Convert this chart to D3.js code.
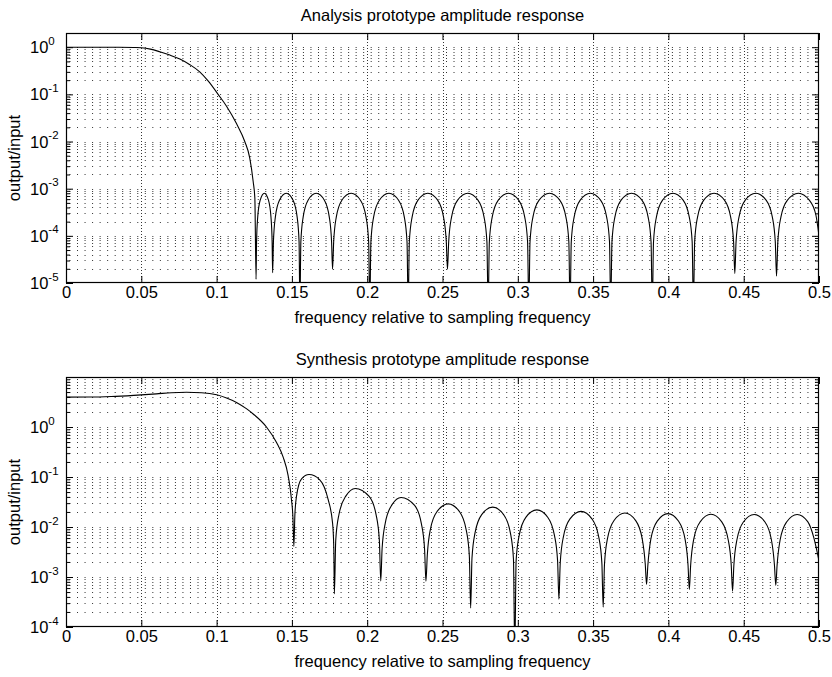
<!DOCTYPE html>
<html><head><meta charset="utf-8">
<script src="https://cdn.jsdelivr.net/npm/d3@7"></script>
<style>body{margin:0;background:#fff} svg text{font-family:"Liberation Sans",Arial,Helvetica,sans-serif;}</style>
</head><body><svg id="chart" width="832" height="677"></svg>
<script>
// ---------- data ----------
const freqTicks = [0, 0.05, 0.1, 0.15, 0.2, 0.25, 0.3, 0.35, 0.4, 0.45, 0.5];
const freqTickLabels = ["0", "0.05", "0.1", "0.15", "0.2", "0.25", "0.3", "0.35", "0.4", "0.45", "0.5"];
const analysisDecadeLabels = [-5, -4, -3, -2, -1, 0];
const synthesisDecadeLabels = [-4, -3, -2, -1, 0];
const titles = ["Analysis prototype amplitude response", "Synthesis prototype amplitude response"];
const xLabel = "frequency relative to sampling frequency";
const yLabel = "output/input";

const analysisFreq = [
0,0.02,0.035,0.045,0.05,0.056,0.0623,0.069,0.0756,0.082,0.0888,0.0945,0.101,0.1066,0.1132,0.1187,0.122,0.1243,0.1254,0.1262,
0.12653,0.1273,0.12895,0.1317,0.13445,0.1361,0.13687,0.1372,
0.13774,0.13901,0.14173,0.14625,0.15078,0.15349,0.15476,0.1553,
0.15595,0.15747,0.16073,0.16615,0.17158,0.17483,0.17635,0.177,
0.17774,0.17947,0.18318,0.18935,0.19553,0.19923,0.20096,0.2017,
0.20247,0.20425,0.20808,0.21445,0.22083,0.22465,0.22644,0.2272,
0.22798,0.22981,0.23373,0.24025,0.24678,0.25069,0.25252,0.2533,
0.25411,0.256,0.26005,0.2668,0.27355,0.2776,0.27949,0.2803,
0.28111,0.283,0.28705,0.2938,0.30055,0.3046,0.30649,0.3073,
0.30812,0.31004,0.31415,0.321,0.32785,0.33196,0.33388,0.3347,
0.33551,0.3374,0.34145,0.3482,0.35495,0.359,0.36089,0.3617,
0.36253,0.36446,0.3686,0.3755,0.3824,0.38654,0.38847,0.3893,
0.39012,0.39203,0.39613,0.40295,0.40978,0.41387,0.41578,0.4166,
0.41743,0.41935,0.42348,0.43035,0.43723,0.44135,0.44328,0.4441,
0.44493,0.44687,0.45103,0.45795,0.46488,0.46903,0.47097,0.4718,
0.47267,0.4747,0.47905,0.4863,0.49355,0.4979,0.5];
const analysisAmp = [
1.0,1.0,0.997,0.985,0.97,0.91,0.8,0.68,0.56,0.43,0.3,0.19,0.1,0.056,0.024,0.01,0.0045,0.0014,0.00063,1.2e-5,
7.5e-5,2.5e-4,5.7e-4,8.0e-4,5.7e-4,2.5e-4,7.5e-5,1.66e-5,
7.5e-5,2.5e-4,5.7e-4,8.0e-4,5.7e-4,2.5e-4,7.5e-5,3e-6,
7.5e-5,2.5e-4,5.7e-4,8.0e-4,5.7e-4,2.5e-4,7.5e-5,1.95e-5,
7.5e-5,2.5e-4,5.7e-4,8.0e-4,5.7e-4,2.5e-4,7.5e-5,3e-6,
7.5e-5,2.5e-4,5.7e-4,8.0e-4,5.7e-4,2.5e-4,7.5e-5,3e-6,
7.5e-5,2.5e-4,5.7e-4,8.0e-4,5.7e-4,2.5e-4,7.5e-5,1.95e-5,
7.5e-5,2.5e-4,5.7e-4,8.0e-4,5.7e-4,2.5e-4,7.5e-5,3e-6,
7.5e-5,2.5e-4,5.7e-4,8.0e-4,5.7e-4,2.5e-4,7.5e-5,3e-6,
7.5e-5,2.5e-4,5.7e-4,8.0e-4,5.7e-4,2.5e-4,7.5e-5,3e-6,
7.5e-5,2.5e-4,5.7e-4,8.0e-4,5.7e-4,2.5e-4,7.5e-5,3e-6,
7.5e-5,2.5e-4,5.7e-4,8.0e-4,5.7e-4,2.5e-4,7.5e-5,3e-6,
7.5e-5,2.5e-4,5.7e-4,8.0e-4,5.7e-4,2.5e-4,7.5e-5,3e-6,
7.5e-5,2.5e-4,5.7e-4,8.0e-4,5.7e-4,2.5e-4,7.5e-5,1.6e-5,
7.5e-5,2.5e-4,5.7e-4,8.0e-4,5.7e-4,2.5e-4,7.5e-5,1.4e-5,
7.5e-5,2.5e-4,5.7e-4,8.0e-4,5.7e-4,2.8e-4,1.0e-4];

const synthesisFreq = [
0,0.015,0.03,0.045,0.06,0.07,0.08,0.09,0.1,0.1066,0.1132,0.12,0.1243,0.1331,0.1398,0.1442,0.1475,0.1497,0.1507,0.1513,
0.152,0.1531,0.1564,0.1614,0.1685,0.174,0.177,0.1778,0.1782,
0.17912,0.18128,0.1859,0.19206,0.2013,0.20592,0.20808,0.209,
0.2099,0.212,0.2165,0.2225,0.2315,0.236,0.2381,0.239,
0.23989,0.24197,0.24643,0.25385,0.26128,0.26573,0.26781,0.2687,
0.26958,0.27163,0.27603,0.28335,0.29068,0.29507,0.29712,0.298,
0.29888,0.30093,0.30533,0.31265,0.31998,0.32437,0.32642,0.3273,
0.32818,0.33024,0.33465,0.342,0.34935,0.35376,0.35582,0.3567,
0.35756,0.35958,0.3639,0.3711,0.3783,0.38262,0.38464,0.3855,
0.38635,0.38834,0.3926,0.3997,0.4068,0.41106,0.41305,0.4139,
0.41476,0.41677,0.42108,0.42825,0.43543,0.43973,0.44174,0.4426,
0.44346,0.44547,0.44978,0.45695,0.46413,0.46843,0.47044,0.4713,
0.47216,0.47417,0.47848,0.4855,0.4925,0.4965,0.5];
const synthesisAmp = [
3.95,3.97,4.08,4.3,4.6,4.85,4.95,4.85,4.4,3.8,3.1,2.3,1.82,1.0,0.49,0.25,0.107,0.036,0.015,0.0041,
0.018,0.042,0.092,0.112,0.088,0.036,0.012,0.004,0.00046,
0.0055,0.018,0.042,0.059,0.041,0.0175,0.0054,0.00083,
0.0037,0.012,0.028,0.039,0.027,0.0116,0.0036,0.00082,
0.0027,0.009,0.0205,0.029,0.0203,0.0088,0.0027,0.00024,
0.0024,0.0077,0.0177,0.025,0.0175,0.0076,0.0023,0.00003,
0.0021,0.0068,0.0156,0.022,0.0155,0.0067,0.0021,0.00036,
0.0019,0.0063,0.0145,0.0205,0.0144,0.0063,0.0019,0.00025,
0.0018,0.0059,0.0135,0.019,0.0134,0.0058,0.0018,0.00071,
0.0017,0.0057,0.0131,0.0185,0.013,0.0057,0.0017,0.00056,
0.0017,0.0056,0.0127,0.018,0.0127,0.0055,0.0017,0.00052,
0.0017,0.0055,0.0126,0.0178,0.0126,0.0055,0.0017,0.00068,
0.0017,0.0055,0.0126,0.0178,0.0128,0.0062,0.0021];

// ---------- drawing ----------
const svg = d3.select("#chart");
const FONT = 16.5;
const plotLeft = 66, plotRight = 819;

function panel(o) {
  const x = d3.scaleLinear().domain([0, 0.5]).range([plotLeft, plotRight]);
  const y = d3.scaleLog().domain(o.yDomain).range([o.bottom, o.top]);
  const g = svg.append("g");
  const lo = o.yDomain[0], hi = o.yDomain[1];

  const allVals = [], minorVals = [], majorVals = [];
  for (let d = Math.floor(Math.log10(lo)); d <= Math.ceil(Math.log10(hi)); d++) {
    for (let m = 1; m <= 9; m++) {
      const v = m * Math.pow(10, d);
      if (v >= lo * 0.9999 && v <= hi * 1.0001) {
        if (m === 1) majorVals.push(v); else minorVals.push(v);
        if (v > lo * 1.0001 && v < hi * 0.9999) allVals.push(v);
      }
    }
  }
  const crisp = v => Math.round(v) + 0.5;

  // horizontal dotted grid
  g.append("g").selectAll("line").data(allVals).join("line")
    .attr("x1", plotLeft).attr("x2", plotRight)
    .attr("y1", d => crisp(y(d))).attr("y2", d => crisp(y(d)))
    .attr("stroke", "#333").attr("stroke-width", 1)
    .attr("stroke-dasharray", "1 6.53").attr("stroke-dashoffset", 4.03);
  // vertical dotted grid
  g.append("g").selectAll("line").data(freqTicks.slice(1, -1)).join("line")
    .attr("x1", d => crisp(x(d))).attr("x2", d => crisp(x(d)))
    .attr("y1", o.top).attr("y2", o.bottom)
    .attr("stroke", "#333").attr("stroke-width", 1)
    .attr("stroke-dasharray", "1 2");

  // curve
  const clipId = "clip" + o.id;
  svg.append("defs").append("clipPath").attr("id", clipId)
    .append("rect").attr("x", plotLeft).attr("y", o.top)
    .attr("width", plotRight - plotLeft).attr("height", o.bottom - o.top);
  const pts = o.freq.map((f, i) => [f, o.amp[i]]);
  const line = d3.line().x(d => x(d[0])).y(d => y(d[1])).curve(d3.curveMonotoneX);
  g.append("path").attr("d", line(pts)).attr("clip-path", `url(#${clipId})`)
    .attr("fill", "none").attr("stroke", "#000").attr("stroke-width", 1.1)
    .attr("stroke-linejoin", "round");

  // axes (ticks inward)
  const styleAxis = sel => {
    sel.select(".domain").remove();
    sel.selectAll("line").attr("stroke", "#000");
    sel.attr("font-size", FONT).attr("font-family", null);
  };
  g.append("g").attr("transform", `translate(0,${o.bottom})`)
    .call(d3.axisBottom(x).tickValues(freqTicks).tickFormat((d, i) => freqTickLabels[i])
      .tickSizeInner(-7).tickSizeOuter(0).tickPadding(3.5)).call(styleAxis)
    .selectAll("text").attr("fill", "#000");
  g.append("g").attr("transform", `translate(0,${o.top})`)
    .call(d3.axisTop(x).tickValues(freqTicks).tickFormat(() => "")
      .tickSizeInner(-7).tickSizeOuter(0)).call(styleAxis);
  [[d3.axisLeft, plotLeft], [d3.axisRight, plotRight]].forEach(([ax, px]) => {
    g.append("g").attr("transform", `translate(${px},0)`)
      .call(ax(y).tickValues(majorVals).tickFormat(() => "").tickSizeInner(-7).tickSizeOuter(0)).call(styleAxis);
    g.append("g").attr("transform", `translate(${px},0)`)
      .call(ax(y).tickValues(minorVals).tickFormat(() => "").tickSizeInner(-4).tickSizeOuter(0)).call(styleAxis);
  });

  // y tick labels 10^n
  const lab = g.append("g").selectAll("text").data(o.decadeLabels).join("text")
    .attr("x", 30).attr("y", d => y(Math.pow(10, d)) + 6)
    .attr("font-size", FONT).attr("fill", "#000");
  lab.append("tspan").text("10");
  lab.append("tspan").attr("font-size", 11.5).attr("dy", -8.5).text(d => d === 0 ? "0" : "-" + Math.abs(d));

  // box
  g.append("rect").attr("x", plotLeft + 0.5).attr("y", o.top + 0.5)
    .attr("width", plotRight - plotLeft - 1).attr("height", o.bottom - o.top - 1)
    .attr("fill", "none").attr("stroke", "#000").attr("stroke-width", 1.2);

  // labels
  g.append("text").attr("x", (plotLeft + plotRight) / 2).attr("y", o.top - 12)
    .attr("text-anchor", "middle").attr("font-size", FONT).text(o.title);
  g.append("text").attr("x", (plotLeft + plotRight) / 2).attr("y", o.bottom + 40)
    .attr("text-anchor", "middle").attr("font-size", FONT).text(xLabel);
  g.append("text").attr("transform", `translate(19.5,${(o.top + o.bottom) / 2}) rotate(-90)`)
    .attr("text-anchor", "middle").attr("font-size", FONT).text(yLabel);
}

panel({id: 1, top: 33, bottom: 283, yDomain: [1e-5, 2], freq: analysisFreq, amp: analysisAmp,
  decadeLabels: analysisDecadeLabels, title: titles[0]});
panel({id: 2, top: 377, bottom: 627, yDomain: [1e-4, 10], freq: synthesisFreq, amp: synthesisAmp,
  decadeLabels: synthesisDecadeLabels, title: titles[1]});
</script></body></html>
